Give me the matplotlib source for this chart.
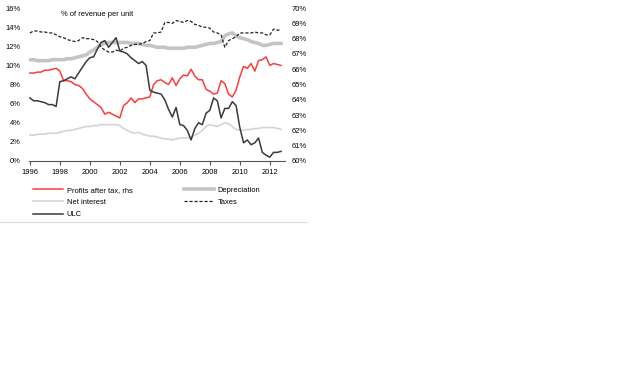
import numpy as np
import matplotlib.pyplot as plt
from matplotlib.lines import Line2D

plt.rcParams['font.family'] = ['Liberation Sans', 'DejaVu Sans']

# quarterly, 1996Q1 .. 2012Q4, % of revenue per unit (lhs scale)
quarters = 1996 + 0.25 * np.arange(68)

profits = [9.2, 9.2, 9.3, 9.3, 9.5, 9.5, 9.6, 9.7, 9.4, 8.4, 8.4, 8.3,
           8.0, 7.9, 7.6, 7.0, 6.5, 6.2, 5.9, 5.6, 4.9, 5.1, 4.9, 4.7,
           4.5, 5.8, 6.1, 6.6, 6.1, 6.5, 6.5, 6.6, 6.7, 8.0, 8.4, 8.5,
           8.2, 8.0, 8.7, 7.9, 8.6, 9.0, 8.9, 9.6, 8.9, 8.5, 8.5, 7.5,
           7.3, 7.0, 7.1, 8.4, 8.1, 7.0, 6.7, 7.4, 8.8, 9.9, 9.7, 10.2,
           9.4, 10.5, 10.6, 10.9, 10.0, 10.2, 10.1, 10.0]

depreciation = [10.6, 10.6, 10.5, 10.5, 10.5, 10.5, 10.6, 10.6,
                10.6, 10.6, 10.7, 10.7, 10.8, 10.9, 11.0, 11.1,
                11.4, 11.6, 11.9, 12.2, 12.3, 12.4, 12.4, 12.4,
                12.4, 12.4, 12.4, 12.3, 12.3, 12.3, 12.2, 12.1,
                12.1, 12.0, 11.9, 11.9, 11.9, 11.8, 11.8, 11.8,
                11.8, 11.8, 11.9, 11.9, 11.9, 12.0, 12.1, 12.2,
                12.3, 12.3, 12.4, 12.5, 13.1, 13.3, 13.4, 13.1,
                12.9, 12.8, 12.7, 12.5, 12.4, 12.3, 12.1, 12.1,
                12.2, 12.3, 12.3, 12.3]

net_interest = [2.7, 2.7, 2.8, 2.8, 2.8, 2.9, 2.9, 2.9, 3.0, 3.1, 3.2, 3.2,
                3.3, 3.4, 3.5, 3.6, 3.6, 3.7, 3.7, 3.8, 3.8, 3.8, 3.8, 3.8,
                3.7, 3.4, 3.2, 3.0, 2.9, 3.0, 2.8, 2.7, 2.6, 2.6, 2.5, 2.4,
                2.3, 2.3, 2.2, 2.3, 2.4, 2.4, 2.4, 2.5, 2.7, 2.9, 3.2, 3.6,
                3.8, 3.7, 3.6, 3.8, 4.0, 3.9, 3.6, 3.3, 3.2, 3.2, 3.3, 3.3,
                3.4, 3.4, 3.5, 3.5, 3.5, 3.5, 3.4, 3.3]

taxes = [13.4, 13.6, 13.6, 13.5, 13.5, 13.4, 13.4, 13.2, 13.0, 12.9, 12.7, 12.6,
         12.5, 12.6, 12.9, 12.8, 12.8, 12.7, 12.5, 11.9, 11.6, 11.4, 11.4, 11.6,
         11.5, 11.8, 11.9, 12.1, 12.2, 12.2, 12.3, 12.5, 12.6, 13.4, 13.4, 13.5,
         14.5, 14.5, 14.4, 14.7, 14.6, 14.5, 14.7, 14.6, 14.3, 14.2, 14.0, 14.0,
         13.9, 13.5, 13.4, 13.2, 11.9, 12.6, 12.8, 13.0, 13.4, 13.4, 13.4, 13.4,
         13.5, 13.4, 13.4, 13.2, 13.2, 13.8, 13.7, 13.7]

ulc = [6.6, 6.3, 6.3, 6.2, 6.1, 5.9, 5.9, 5.7, 8.3, 8.4, 8.6, 8.8,
       8.6, 9.2, 9.8, 10.4, 10.8, 10.9, 11.7, 12.4, 12.6, 11.9, 12.4, 12.9,
       11.5, 11.4, 11.2, 10.8, 10.5, 10.2, 10.4, 10.0, 7.4, 7.2, 7.1, 7.0,
       6.4, 5.4, 4.6, 5.6, 3.8, 3.7, 3.2, 2.2, 3.4, 4.0, 3.8, 5.0,
       5.3, 6.6, 6.3, 4.5, 5.5, 5.5, 6.2, 5.8, 3.5, 1.9, 2.2, 1.7,
       1.9, 2.4, 0.9, 0.6, 0.4, 0.9, 0.9, 1.0]

years = list(range(1996, 2013, 2))
left_ticks = list(range(0, 17, 2))
right_ticks = list(range(60, 71))

fs = 5.4

fig = plt.figure(figsize=(6.4, 3.86), dpi=100)
ax = fig.add_axes([0.045, 0.583, 0.40, 0.396])

ax.plot(quarters, depreciation, color='#c4c4c4', lw=2.6, label='Depreciation')
ax.plot(quarters, net_interest, color='#d4d4d4', lw=1.2, label='Net interest')
ax.plot(quarters, taxes, color='#222222', lw=0.9, ls=(0, (2.5, 1.5)), label='Taxes')
ax.plot(quarters, profits, color='#ff3b3b', lw=1.1, label='Profits after tax, rhs')
ax.plot(quarters, ulc, color='#3a3a3a', lw=1.1, label='ULC')

ax.set_xlim(1995.93, 2013.0)
ax.set_ylim(0, 16)
ax.set_xticks(years)
ax.set_xticklabels([str(y) for y in years], fontsize=fs)
ax.set_yticks(left_ticks)
ax.set_yticklabels(['%d%%' % t for t in left_ticks], fontsize=fs)
ax.tick_params(axis='y', length=0, pad=6)
ax.tick_params(axis='x', length=3, width=0.8, color='#555555', pad=2.5)
for s in ['top', 'left', 'right']:
    ax.spines[s].set_visible(False)
ax.spines['bottom'].set_color('#555555')
ax.spines['bottom'].set_linewidth(0.8)
ax.text(0.265, 0.955, '% of revenue per unit', transform=ax.transAxes,
        ha='center', va='center', fontsize=fs)

ax2 = ax.twinx()
ax2.set_ylim(60, 70)
ax2.set_yticks(right_ticks)
ax2.set_yticklabels(['%d%%' % t for t in right_ticks], fontsize=fs)
ax2.tick_params(axis='y', length=0, pad=5)
for s in ['top', 'left', 'right', 'bottom']:
    ax2.spines[s].set_visible(False)

h = {l.get_label(): l for l in ax.get_lines()}
order = ['Profits after tax, rhs', 'Net interest', 'ULC', 'Depreciation', 'Taxes']
fig.legend([h[k] for k in order], order, ncol=2, loc='upper left',
           bbox_to_anchor=(0.0516, 0.517), frameon=False, fontsize=fs,
           handlelength=4.0, handletextpad=0.5, columnspacing=6.8,
           labelspacing=0.68, borderpad=0, borderaxespad=0)

fig.add_artist(Line2D([0.0, 0.48], [0.425, 0.425], transform=fig.transFigure,
                      color='#dddddd', lw=0.8))

fig.savefig('out.png', dpi=100)
